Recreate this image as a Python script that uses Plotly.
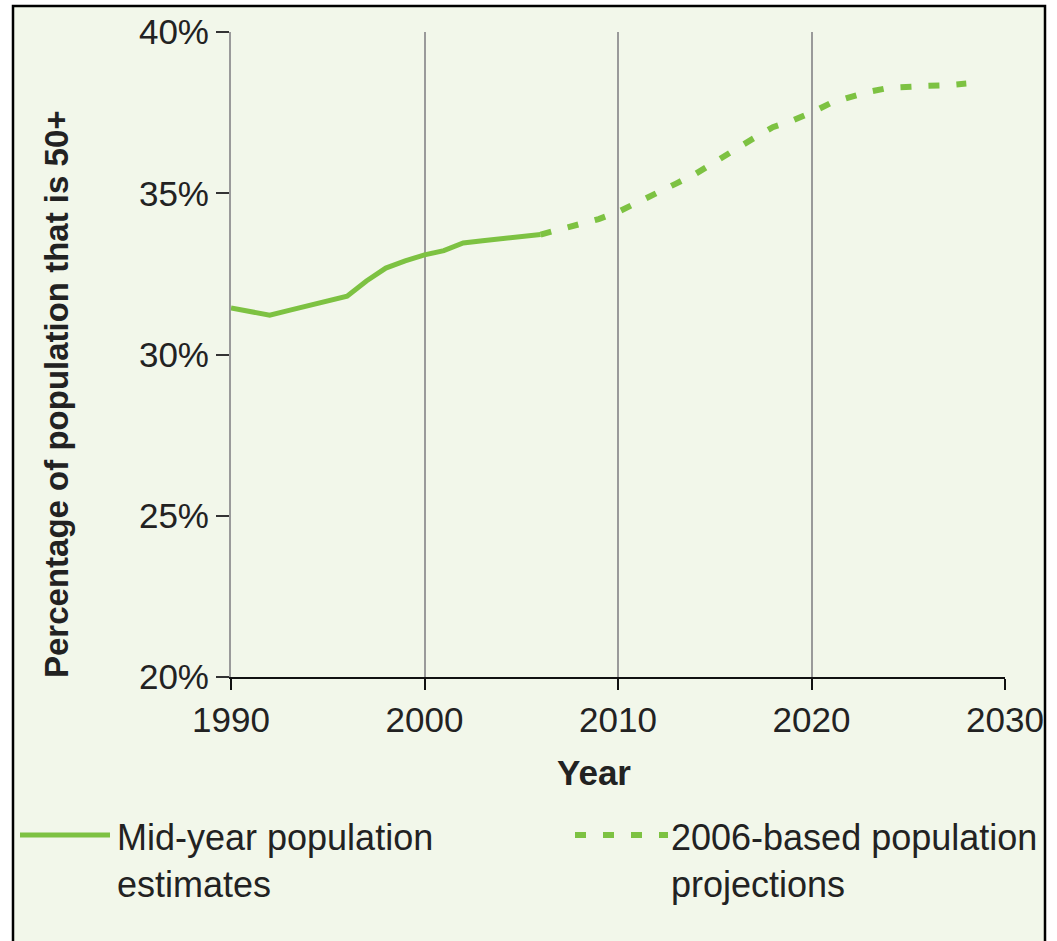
import plotly.graph_objects as go

# ---- data ----
est_years = [1990, 1991, 1992, 1993, 1994, 1995, 1996, 1997, 1998, 1999,
             2000, 2001, 2002, 2003, 2004, 2005, 2006]
est_vals = [31.44, 31.32, 31.22, 31.37, 31.51, 31.66, 31.81, 32.28, 32.68, 32.90,
            33.09, 33.22, 33.46, 33.53, 33.59, 33.66, 33.72]

proj_years = [2006, 2007, 2008, 2009, 2010, 2011, 2012, 2013, 2014, 2015, 2016,
              2017, 2018, 2019, 2020, 2021, 2022, 2023, 2024, 2025, 2026, 2027, 2028]
proj_vals = [33.72, 33.87, 34.02, 34.20, 34.42, 34.70, 34.98, 35.30, 35.60, 35.98, 36.33,
             36.70, 37.05, 37.25, 37.50, 37.80, 37.98, 38.15, 38.27, 38.32, 38.33, 38.35, 38.40]

x_ticks = [1990, 2000, 2010, 2020, 2030]
y_ticks = [20, 25, 30, 35, 40]
y_tick_labels = [f"{v}%" for v in y_ticks]

series_names = ["Mid-year population<br>estimates", "2006-based population<br>projections"]
y_title = "Percentage of population that is 50+"
x_title = "Year"

GREEN = "#7DC242"
BG = "#F2F7EA"
FONT = "Liberation Sans, Arial, Helvetica, sans-serif"
TXT = "#222222"

fig = go.Figure()
fig.add_trace(go.Scatter(x=est_years, y=est_vals, mode="lines",
                         line=dict(color=GREEN, width=5), showlegend=False,
                         name="Mid-year population estimates"))
fig.add_trace(go.Scatter(x=proj_years, y=proj_vals, mode="lines",
                         line=dict(color=GREEN, width=6, dash="11px,17px"), showlegend=False,
                         name="2006-based population projections"))

W, H = 1057, 941
L, R, T, B = 231, 52, 32, 264
pw, ph = W - L - R, H - T - B


def px(xp):
    return (xp - L) / pw


def py(yp):
    return (H - B - yp) / ph


shapes = [
    # outer frame
    dict(type="rect", xref="paper", yref="paper", x0=px(13), x1=px(1045), y0=py(960), y1=py(6),
         line=dict(color="black", width=2.5), fillcolor=BG, layer="below"),
    # legend samples
    dict(type="line", xref="paper", yref="paper", x0=px(20), x1=px(110), y0=py(835), y1=py(835),
         line=dict(color=GREEN, width=5)),
    dict(type="line", xref="paper", yref="paper", x0=px(575), x1=px(668), y0=py(835), y1=py(835),
         line=dict(color=GREEN, width=6, dash="11px,17px")),
]

annotations = [
    dict(text=series_names[0], xref="paper", yref="paper", x=px(115), y=py(861),
         xanchor="left", yanchor="middle", align="left", showarrow=False,
         font=dict(family=FONT, size=36, color=TXT)),
    dict(text=series_names[1], xref="paper", yref="paper", x=px(669), y=py(861),
         xanchor="left", yanchor="middle", align="left", showarrow=False,
         font=dict(family=FONT, size=36, color=TXT)),
    dict(text="<b>" + y_title + "</b>", xref="paper", yref="paper", x=px(56), y=py(394),
         xanchor="center", yanchor="middle", textangle=-90, showarrow=False,
         font=dict(family=FONT, size=33, color=TXT)),
    dict(text="<b>" + x_title + "</b>", xref="paper", yref="paper", x=px(594), y=py(772),
         xanchor="center", yanchor="middle", showarrow=False,
         font=dict(family=FONT, size=35, color=TXT)),
]

fig.update_layout(
    width=W, height=H,
    margin=dict(l=L, r=R, t=T, b=B, pad=0),
    paper_bgcolor="white",
    plot_bgcolor="rgba(0,0,0,0)",
    font=dict(family=FONT, color=TXT),
    shapes=shapes,
    annotations=annotations,
    showlegend=False,
    xaxis=dict(range=[1990, 2030], tickvals=x_ticks, ticks="outside", ticklen=11,
               tickwidth=2, tickcolor="#111", showline=True, linecolor="#111", linewidth=2,
               showgrid=True, gridcolor="#9a9a9a", gridwidth=2, zeroline=False,
               tickfont=dict(size=35, color=TXT, family=FONT)),
    yaxis=dict(range=[20, 40], tickvals=y_ticks, ticktext=y_tick_labels, ticks="outside",
               ticklen=13, tickwidth=2, tickcolor="#333", showline=True, linecolor="#9a9a9a",
               linewidth=2, showgrid=False, zeroline=False,
               tickfont=dict(size=35, color=TXT, family=FONT)),
)

fig.write_html("out.html", config={"displayModeBar": False},
               post_script="document.body.style.margin='0px';")
